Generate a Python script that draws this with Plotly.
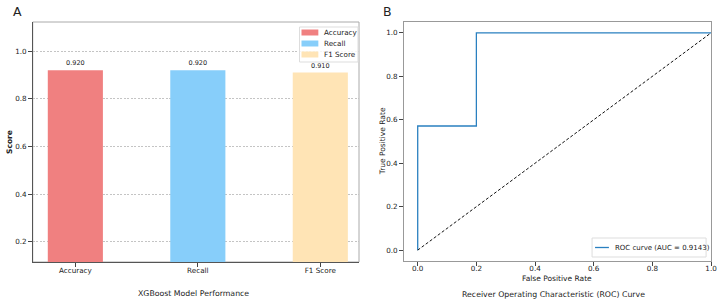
import plotly.graph_objects as go

W, H = 725, 305

# ---------------- data ----------------
metrics = ["Accuracy", "Recall", "F1 Score"]
scores = [0.920, 0.920, 0.910]
bar_colors = ["#F08080", "#87CEFA", "#FFE4B5"]

fpr = [0.0, 0.0, 0.2, 0.2, 1.0]
tpr = [0.0, 0.5714, 0.5714, 1.0, 1.0]
auc_value = 0.9143
chance_x = [0.0, 1.0]
chance_y = [0.0, 1.0]

score_ticks = [0.2, 0.4, 0.6, 0.8, 1.0]
rate_ticks = [0.0, 0.2, 0.4, 0.6, 0.8, 1.0]

FONT = "DejaVu Sans"
ROC_COLOR = "#2a80c0"


def px(x):
    return x / W


def py(y):
    return 1 - y / H


fig = go.Figure()

# ---------------- panel A: bars ----------------
for m, s, c in zip(metrics, scores, bar_colors):
    fig.add_trace(go.Bar(
        x=[m], y=[s], name=m, width=0.45,
        marker=dict(color=c, line=dict(width=0)),
        text=[f"{s:.3f}"], textposition="outside",
        textfont=dict(size=6.5, color="#222", family=FONT),
        cliponaxis=False, showlegend=False,
        xaxis="x", yaxis="y",
    ))

# ---------------- panel B: ROC ----------------
roc_label = f"ROC curve (AUC = {auc_value:.4f})"
fig.add_trace(go.Scatter(
    x=fpr, y=tpr, mode="lines", name=roc_label,
    line=dict(color=ROC_COLOR, width=1.3, shape="linear"),
    xaxis="x2", yaxis="y2", showlegend=False,
))
fig.add_trace(go.Scatter(
    x=chance_x, y=chance_y, mode="lines", name="chance",
    line=dict(color="#111", width=1, dash="3px,2px"),
    xaxis="x2", yaxis="y2", showlegend=False,
))

axA_x = [33, 362]
axA_y = [22, 262]
axB_x = [407, 717]
axB_y = [22, 261]

tickfont = dict(size=7.2, color="#222", family=FONT)

fig.update_layout(
    width=W, height=H,
    margin=dict(l=0, r=0, t=0, b=0),
    paper_bgcolor="white", plot_bgcolor="white",
    font=dict(family=FONT, color="#222"),
    barmode="overlay",
    showlegend=False,
    xaxis=dict(
        domain=[px(axA_x[0]), px(axA_x[1])],
        type="category", categoryorder="array", categoryarray=metrics,
        range=[-0.348, 2.316],
        showline=True, linecolor="#555", linewidth=1.4, mirror=False,
        ticks="outside", ticklen=3.5, tickcolor="#444", tickwidth=0.8,
        tickfont=tickfont, showgrid=False, zeroline=False,
        ticklabelstandoff=-2,
    ),
    yaxis=dict(
        domain=[py(axA_y[1]), py(axA_y[0])],
        range=[0.116, 1.122],
        tickvals=score_ticks, tickformat=".1f",
        showline=True, linecolor="#555", linewidth=1.4, mirror=False,
        ticks="outside", ticklen=3.5, tickcolor="#444", tickwidth=0.8,
        tickfont=tickfont,
        showgrid=True, gridcolor="#c4c4c4", gridwidth=0.8, griddash="2px,1.5px",
        zeroline=False,
    ),
    xaxis2=dict(
        domain=[px(axB_x[0]), px(axB_x[1])],
        range=[-0.048, 1.0], anchor="y2",
        tickvals=rate_ticks, tickformat=".1f",
        showline=True, linecolor="#999", linewidth=1, mirror=True,
        ticks="outside", ticklen=3.5, tickcolor="#444", tickwidth=0.8,
        tickfont=tickfont, showgrid=False, zeroline=False,
        ticklabelstandoff=-3,
    ),
    yaxis2=dict(
        domain=[py(axB_y[1]), py(axB_y[0])],
        range=[-0.05, 1.05], anchor="x2",
        tickvals=rate_ticks, tickformat=".1f",
        showline=True, linecolor="#999", linewidth=1, mirror=True,
        ticks="outside", ticklen=3.5, tickcolor="#444", tickwidth=0.8,
        tickfont=tickfont, showgrid=False, zeroline=False,
        ticklabelstandoff=0,
    ),
)

shapes = []
annotations = []
# light frame for panel A (top & right)
shapes.append(dict(type="rect", xref="paper", yref="paper",
                   x0=px(axA_x[0]), x1=px(axA_x[1]), y0=py(axA_y[1]), y1=py(axA_y[0]),
                   line=dict(color="#aaa", width=1), fillcolor="rgba(0,0,0,0)", layer="below"))

# legend for panel A
lx0, lx1, ly0, ly1 = 302, 361, 27, 62
shapes.append(dict(type="rect", xref="paper", yref="paper",
                   x0=px(lx0), x1=px(lx1), y0=py(ly1), y1=py(ly0),
                   line=dict(color="#ddd", width=1), fillcolor="rgba(255,255,255,0.85)", layer="above"))
entry_y = [32.5, 43.5, 54.5]
for m, c, ey in zip(metrics, bar_colors, entry_y):
    shapes.append(dict(type="rect", xref="paper", yref="paper",
                       x0=px(304), x1=px(321), y0=py(ey + 3), y1=py(ey - 3),
                       line=dict(width=0), fillcolor=c, layer="above"))
    annotations.append(dict(text=m, xref="paper", yref="paper", x=px(325), y=py(ey),
                            xanchor="left", yanchor="middle", showarrow=False,
                            font=dict(size=7.2, color="#222", family=FONT)))

# legend for panel B
bx0, bx1, by0, by1 = 597, 712, 238, 257
shapes.append(dict(type="rect", xref="paper", yref="paper",
                   x0=px(bx0), x1=px(bx1), y0=py(by1), y1=py(by0),
                   line=dict(color="#ddd", width=1), fillcolor="rgba(255,255,255,0.85)", layer="above"))
shapes.append(dict(type="line", xref="paper", yref="paper",
                   x0=px(600), x1=px(614), y0=py(247.5), y1=py(247.5),
                   line=dict(color=ROC_COLOR, width=1.3), layer="above"))
annotations.append(dict(text=roc_label, xref="paper", yref="paper", x=px(618), y=py(247.5),
                        xanchor="left", yanchor="middle", showarrow=False,
                        font=dict(size=7, color="#222", family=FONT)))

# panel labels and titles
titles = [
    dict(text="A", x=px(18), y=py(11.5), font=dict(size=12.5, color="#222", family=FONT)),
    dict(text="B", x=px(390.5), y=py(11.5), font=dict(size=12.5, color="#222", family=FONT)),
    dict(text="<b>Score</b>", x=px(9), y=py(142), textangle=-90,
         font=dict(size=7.5, color="#222", family=FONT)),
    dict(text="XGBoost Model Performance", x=px(195), y=py(293),
         font=dict(size=7.8, color="#222", family=FONT)),
    dict(text="True Positive Rate", x=px(386), y=py(141.5), textangle=-90,
         font=dict(size=7.5, color="#222", family=FONT)),
    dict(text="False Positive Rate", x=px(562), y=py(278),
         font=dict(size=7.5, color="#222", family=FONT)),
    dict(text="Receiver Operating Characteristic (ROC) Curve", x=px(558), y=py(294),
         font=dict(size=7.8, color="#222", family=FONT)),
]
for a in titles:
    a.update(xref="paper", yref="paper", xanchor="center", yanchor="middle", showarrow=False)
annotations += titles

fig.update_layout(shapes=shapes, annotations=annotations)

fig.write_html("out.html")
